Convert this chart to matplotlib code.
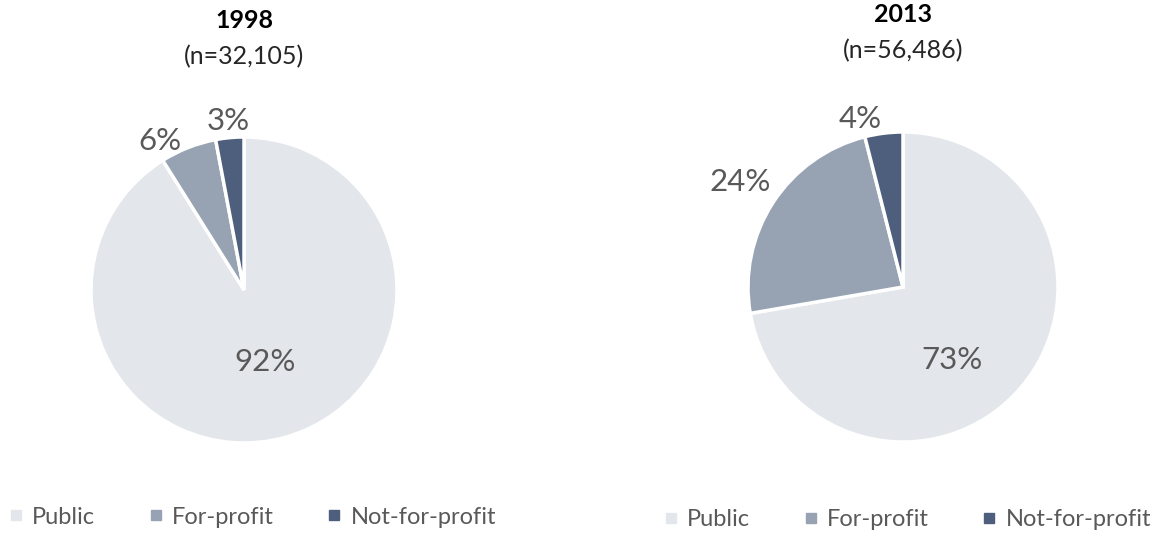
import numpy as np
import matplotlib.pyplot as plt
from matplotlib.lines import Line2D

plt.rcParams['font.family'] = ['Lato', 'DejaVu Sans']

categories = ['Public', 'For-profit', 'Not-for-profit']
years = ['1998', '2013']
counts = ['(n=32,105)', '(n=56,486)']
shares_1998 = [92, 6, 3]
shares_2013 = [73, 24, 4]
colors = ['#E3E6EB', '#97A3B3', '#4D5F7C']
text_color = '#595959'

fig = plt.figure(figsize=(11.61, 5.33), dpi=100)
W, H = 1161, 533

# pie boxes in pixels: left, top, size
boxes = [(91, 137, 306), (748, 132, 310)]
# label placement: radial distance and angle shift from slice middle
label_dist = [[0.49, 1.12, 1.11], [0.57, 1.25, 1.12]]
label_shift = [[0, 8, 0], [-16, 0, 7]]
title_y = [20, 14]
legend_x = [253, 908]
legend_y = [517, 520]

for i, shares in enumerate([shares_1998, shares_2013]):
    left, top, size = boxes[i]
    ax = fig.add_axes([left / W, 1 - (top + size) / H, size / W, size / H])
    wedges, texts = ax.pie(shares, colors=colors, startangle=90, counterclock=False,
                           wedgeprops=dict(edgecolor='white', linewidth=2.5),
                           labels=[f'{v}%' for v in shares], labeldistance=1.1,
                           textprops=dict(color=text_color, fontsize=22.5))
    for t, d, s, w in zip(texts, label_dist[i], label_shift[i], wedges):
        ang = np.deg2rad((w.theta1 + w.theta2) / 2 + s)
        t.set_position((d * np.cos(ang), d * np.sin(ang)))
        t.set_ha('center')
        t.set_va('center')
    ax.set_xlim(-1, 1)
    ax.set_ylim(-1, 1)
    ax.set_aspect('equal')

    cx = (left + size / 2) / W
    fig.text(cx, 1 - title_y[i] / H, years[i], ha='center', va='center',
             fontsize=18, fontweight='bold', color='black')
    fig.text(cx, 1 - (title_y[i] + 37) / H, counts[i], ha='center', va='center',
             fontsize=18, color='#262626')

    handles = [Line2D([], [], marker='s', linestyle='none', markersize=6.5,
                      markerfacecolor=c, markeredgecolor=c) for c in colors]
    fig.legend(handles, categories, loc='center', ncol=3,
               bbox_to_anchor=(legend_x[i] / W, 1 - legend_y[i] / H),
               frameon=False, fontsize=17, labelcolor=text_color,
               handlelength=0.5, handletextpad=0.45, columnspacing=2.3,
               borderpad=0, borderaxespad=0)

fig.savefig('out.png', dpi=100)
